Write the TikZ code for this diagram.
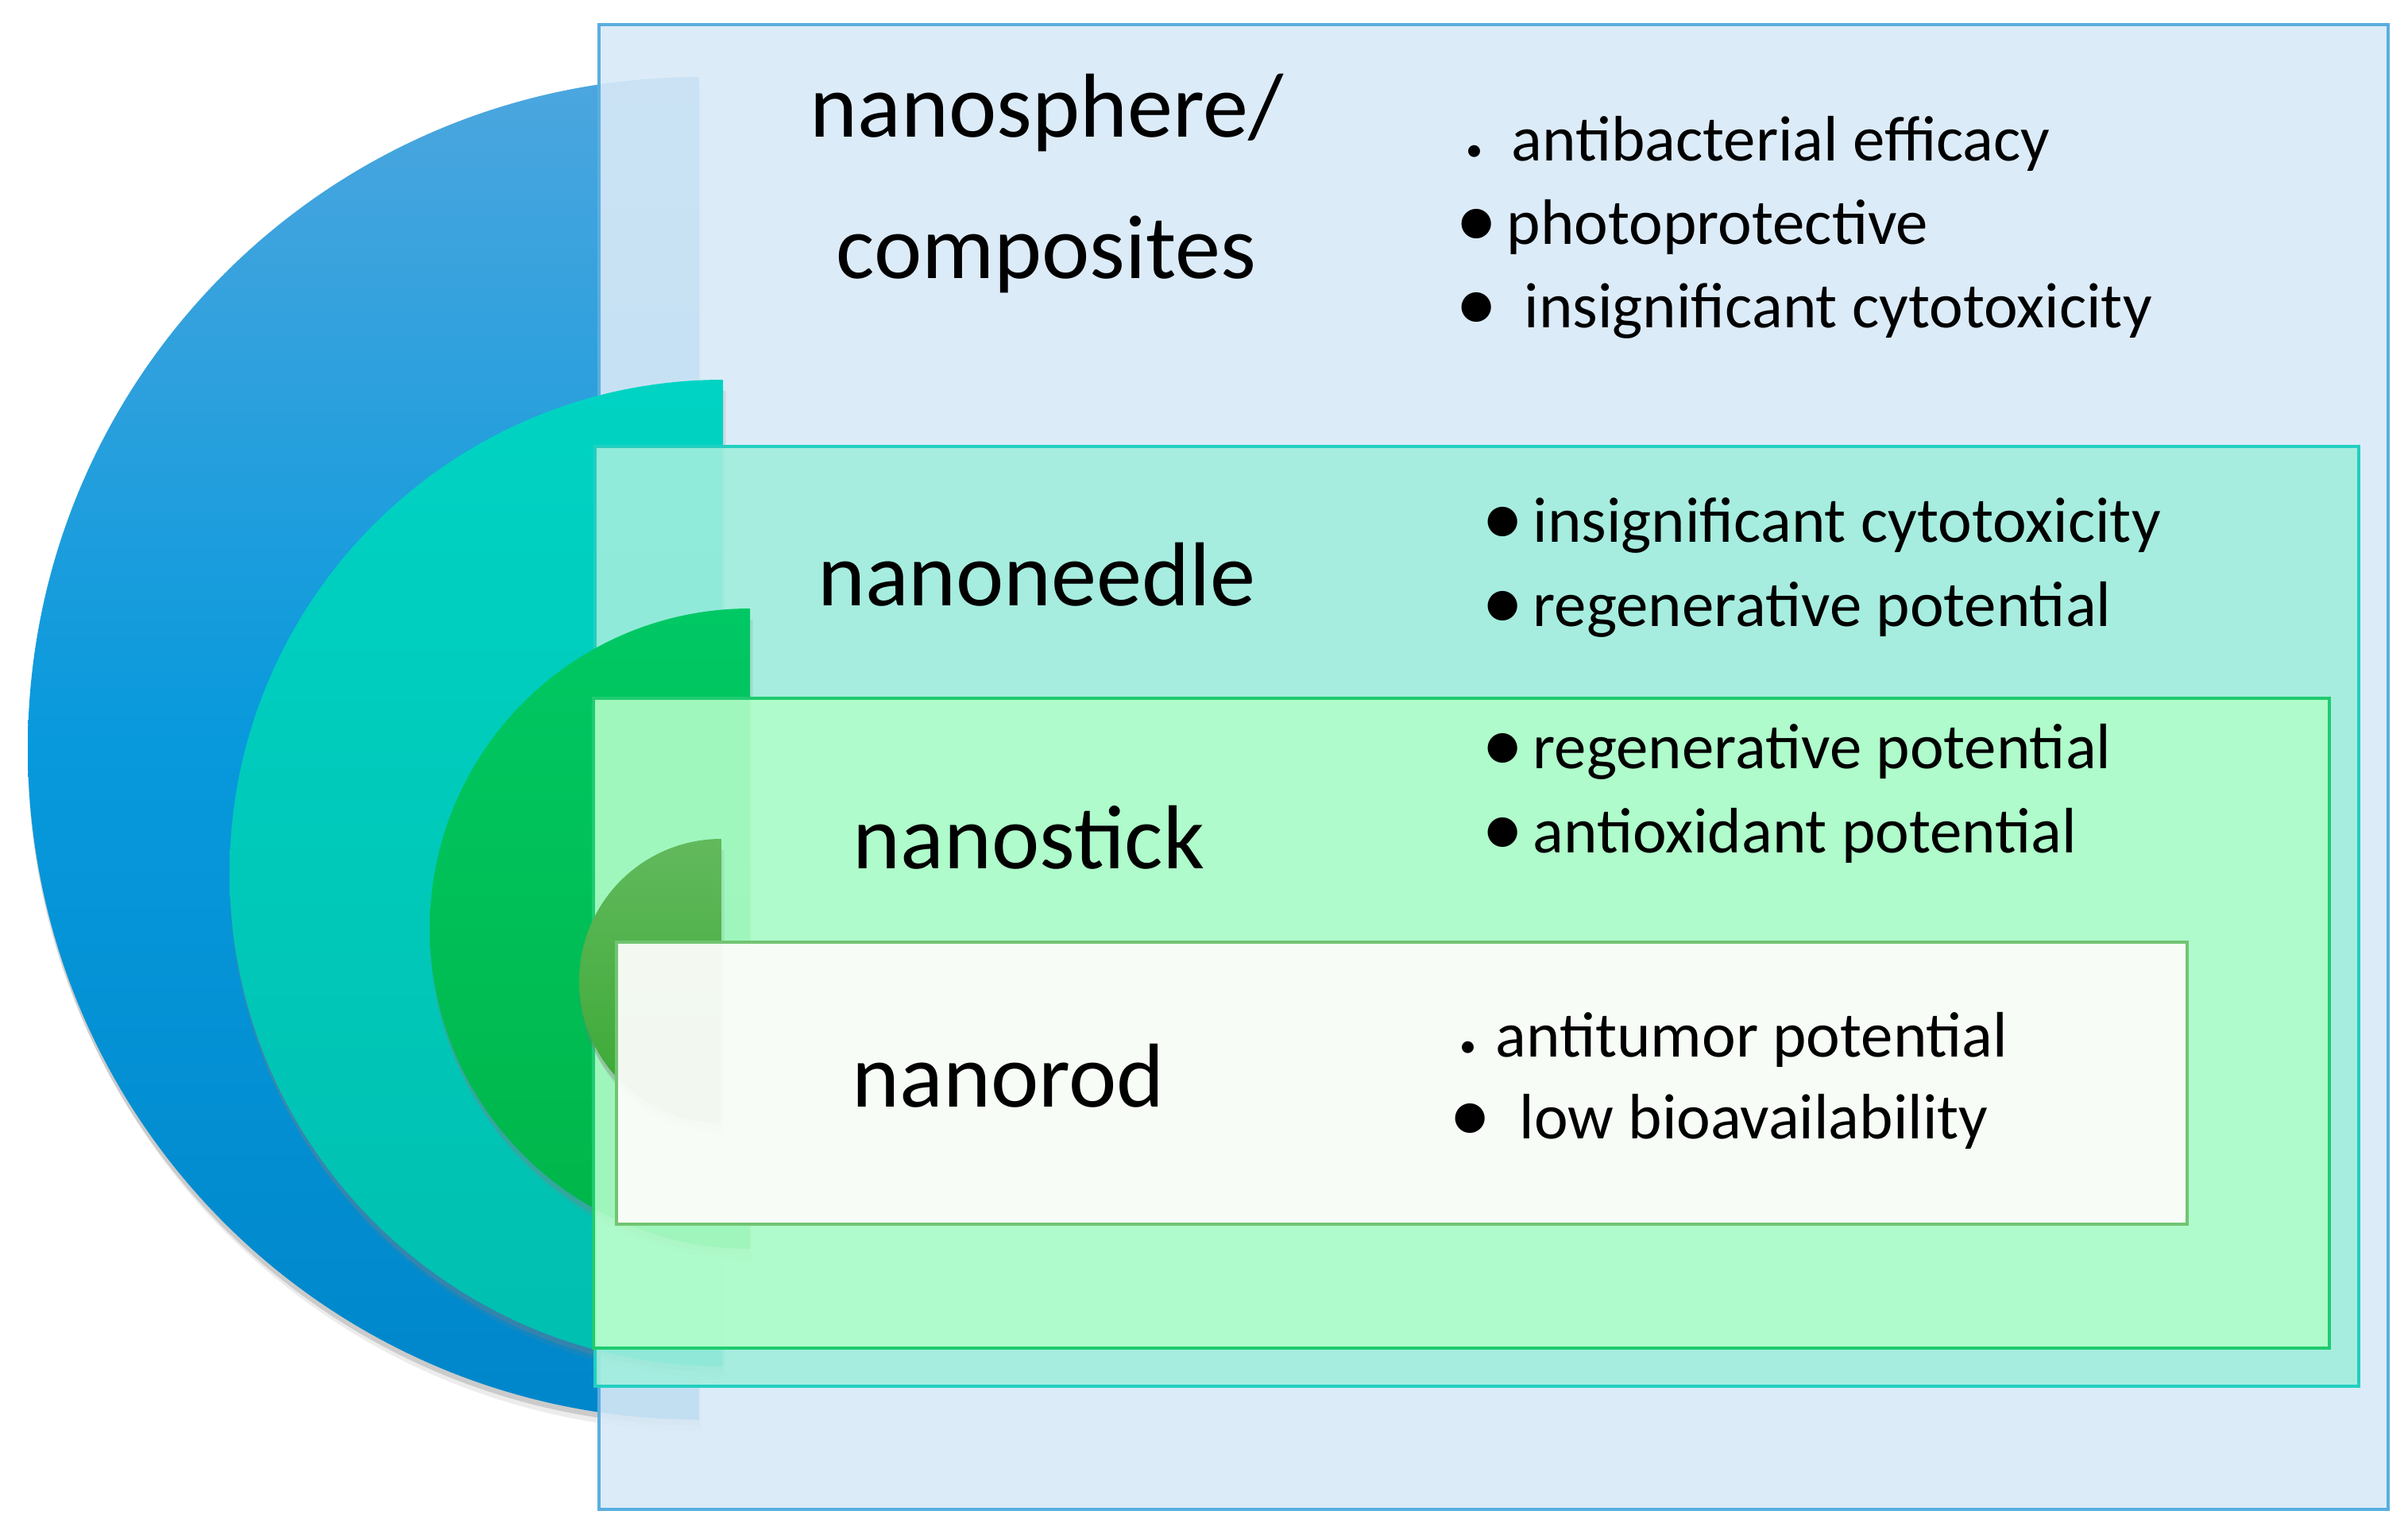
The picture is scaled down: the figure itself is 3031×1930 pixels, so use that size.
\documentclass[tikz,border=0pt]{standalone}
\usepackage{fontspec}
\setmainfont{Carlito}
\usepackage{xcolor}
\usepackage{tikz}
\usetikzlibrary{shadows}

\definecolor{bluetop}{HTML}{4CA6DE}
\definecolor{bluemid}{HTML}{0799DC}
\definecolor{bluebot}{HTML}{0086CA}
\definecolor{tealtop}{HTML}{00D3C3}
\definecolor{tealbot}{HTML}{00BFB0}
\definecolor{greentop}{HTML}{00C864}
\definecolor{greenbot}{HTML}{00B548}
\definecolor{smalltop}{HTML}{62B95C}
\definecolor{smallbot}{HTML}{38A833}
\definecolor{spherefill}{HTML}{D8E9F7}
\definecolor{sphereline}{HTML}{5AAEE0}
\definecolor{needlefill}{HTML}{A0EEDD}
\definecolor{needleline}{HTML}{22CFC0}
\definecolor{stickfill}{HTML}{B1FDC9}
\definecolor{stickline}{HTML}{1FCB6E}
\definecolor{rodfill}{HTML}{FCFDFA}
\definecolor{rodline}{HTML}{72C472}

\newcommand{\bigdot}[1]{\llap{\raisebox{-1.2pt}{\scalebox{1.3}{\textbullet}}\hspace{#1}}}
\newcommand{\smalldot}[1]{\llap{{\fontsize{12}{12}\selectfont\textbullet}\hspace{#1}}}

\begin{document}
\begin{tikzpicture}[x=0.01cm, y=-0.01cm]
\tikzstyle{title}=[anchor=base, inner sep=0pt, font=\fontsize{32.5}{39}\selectfont]
\tikzstyle{point}=[anchor=base west, inner sep=0pt, font=\fontsize{23}{28}\selectfont]
\tikzstyle{half}=[drop shadow={shadow xshift=1pt, shadow yshift=-4pt, opacity=.15},
                  drop shadow={shadow xshift=0pt, shadow yshift=-2pt, opacity=.3}]
\tikzstyle{layer}=[fill opacity=.9, line width=.9pt]

\useasboundingbox (0,0) rectangle (3031,1930);

\path[half, top color=bluetop, bottom color=bluebot, middle color=bluemid]
  (880,942) ++(0,845) arc[start angle=90, end angle=270, radius=845] -- cycle;
\draw[layer, fill=spherefill, draw=sphereline] (754,31) rectangle (3006,1900);

\path[half, top color=tealtop, bottom color=tealbot]
  (910,1099) ++(0,621) arc[start angle=90, end angle=270, radius=621] -- cycle;
\draw[layer, fill=needlefill, draw=needleline] (749,562) rectangle (2969,1745);

\path[half, top color=greentop, bottom color=greenbot]
  (944,1169) ++(0,403) arc[start angle=90, end angle=270, radius=403] -- cycle;
\draw[layer, fill=stickfill, draw=stickline] (747,879) rectangle (2932,1697);

\path[half, top color=smalltop, bottom color=smallbot]
  (908,1235) ++(0,179) arc[start angle=90, end angle=270, radius=179] -- cycle;
\draw[layer, fill opacity=.95, fill=rodfill, draw=rodline] (776,1186) rectangle (2753,1541);

\node[title] (sphere) at (1318,172) {nanosphere/};
\node[title] (composites) at (1317,350) {composites};
\node[title] (needle) at (1305,762) {nanoneedle};
\node[title] (stick) at (1295,1093) {nanostick};
\node[title] (rod) at (1269,1393) {nanorod};

\node[point] (sph1) at (1902,202) {\smalldot{.36cm}antibacterial efficacy};
\node[point] (sph2) at (1896,307) {\bigdot{.12cm}photoprotective};
\node[point] (sph3) at (1918,412) {\bigdot{.34cm}insignificant cytotoxicity};

\node[point] (ndl1) at (1929,682) {\bigdot{.12cm}insignificant cytotoxicity};
\node[point] (ndl2) at (1929,788) {\bigdot{.12cm}regenerative potential};

\node[point] (stk1) at (1929,967) {\bigdot{.12cm}regenerative potential};
\node[point] (stk2) at (1929,1073) {\bigdot{.12cm}antioxidant potential};

\node[point] (rod1) at (1882,1330) {\smalldot{.24cm}antitumor potential};
\node[point] (rod2) at (1912,1433) {\bigdot{.36cm}low bioavailability};

\end{tikzpicture}
\end{document}
